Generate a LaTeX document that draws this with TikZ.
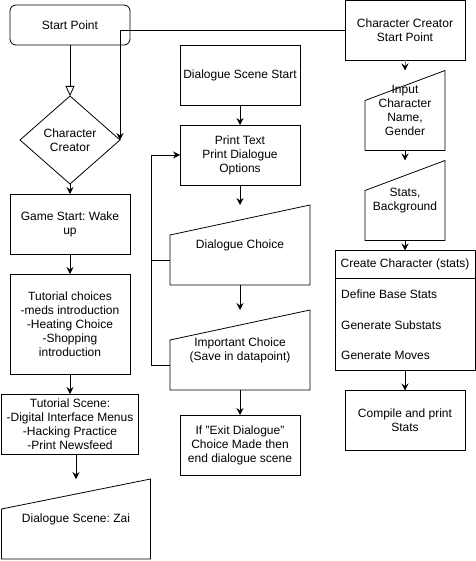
\documentclass[tikz,border=0pt]{standalone}
\usepackage{fontspec}
\setmainfont{Liberation Sans}
\frenchspacing
\usetikzlibrary{arrows.meta,positioning,shapes.geometric}

\tikzset{
  box/.style={draw,line width=0.8pt,minimum width=120pt,minimum height=60pt,inner sep=2pt,outer sep=0pt,align=center},
  startbox/.style={box,rounded corners=6pt,minimum height=40pt},
  decision/.style={draw,diamond,line width=0.8pt,aspect=1.1,minimum width=100pt,minimum height=88pt,inner sep=0pt,outer sep=0pt,align=center},
  manin/.style={minimum width=140pt,minimum height=80pt,inner sep=2pt,outer sep=0pt,align=center},
  item/.style={inner sep=0pt,text height=9pt,text depth=3pt,anchor=north west},
  arr/.style={-{Stealth[length=7pt,width=7pt,inset=2.5pt]},line width=0.8pt},
  opentip/.style={-{Triangle[open,length=10pt,width=9pt,fill=white]},line width=0.8pt},
}

\begin{document}
\begin{tikzpicture}[x=1pt,y=-1pt,every node/.style={font=\fontsize{12}{14}\selectfont}]
\fill[white] (0,0) rectangle (475,561);
\useasboundingbox (0,0) rectangle (475,561);

% left column
\node[startbox] (start) at (70,25) {Start Point};
\node[decision,below=51pt of start] (cc) {Character\\Creator};
\node[box,below=10pt of cc] (gamestart) {Game Start: Wake\\up};
\node[box,below=20pt of gamestart,minimum height=100pt] (tutchoice) {Tutorial choices\\-meds introduction\\-Heating Choice\\-Shopping\\introduction};
\node[box,below=20pt of tutchoice,minimum width=137pt] (tutscene) {Tutorial Scene:\\-Digital Interface Menus\\-Hacking Practice\\-Print Newsfeed};
\node[manin,below=25pt of tutscene,xshift=6pt,minimum width=149pt] (zai) {Dialogue Scene: Zai};

% middle column
\node[box] (dstart) at (240,75) {Dialogue Scene Start};
\node[box,below=20pt of dstart] (printtext) {Print Text\\Print Dialogue\\Options};
\node[manin,below=20pt of printtext] (dchoice) {Dialogue Choice};
\node[manin,below=25pt of dchoice] (ichoice) {Important Choice\\(Save in datapoint)};
\node[box,below=25pt of ichoice] (exitd) {If "Exit Dialogue"\\Choice Made then\\end dialogue scene};

% right column
\node[box] (ccstart) at (405,30.5) {Character Creator\\Start Point};
\node[manin,below=10pt of ccstart,minimum width=80pt] (cinput) {Input\\Character\\Name,\\Gender};
\node[manin,below=10pt of cinput,minimum width=80pt] (cstats) {Stats,\\Background};
\node[box,below=10pt of cstats,minimum width=140pt,minimum height=28pt] (create) {Create Character (stats)};
\node[item,below right=11pt and 6pt of create.south west,anchor=north west] (dbase) {Define Base Stats};
\node[item,below=18pt of dbase.south west,anchor=north west] (gsub) {Generate Substats};
\node[item,below=18pt of gsub.south west,anchor=north west] (gmoves) {Generate Moves};
\coordinate (createbot) at ([yshift=-92pt]create.south);
\draw[line width=0.8pt] (create.south west) rectangle ([yshift=-92pt]create.south east);
\node[box,below=20pt of createbot] (compile) {Compile and print\\Stats};

% manual input outlines
\foreach \n in {zai,dchoice,ichoice,cinput,cstats}
  \draw[line width=0.8pt] (\n.south west) -- (\n.south east) -- (\n.north east) -- ([yshift=-30pt]\n.north west) -- cycle;

% connectors
\draw[opentip] (start) -- (cc);
\draw[arr] (cc) -- (gamestart);
\draw[arr] (gamestart) -- (tutchoice);
\draw[arr] (tutchoice) -- (tutscene);
\draw[arr] (tutscene.south -| zai.north) -- (zai.north);
\draw[arr] (ccstart.west) -| (cc.east);
\draw[arr] (dstart) -- (printtext);
\draw[arr] (printtext) -- (dchoice);
\draw[arr] (dchoice) -- (ichoice);
\draw[arr] (ichoice) -- (exitd);
\draw[arr] ([yshift=25pt]ichoice.south west) -- ++(-19,0) |- (printtext.west);
\draw[line width=0.8pt] ([yshift=25pt]dchoice.south west) -- ++(-19,0);
\draw[-{Stealth[length=7pt,width=7pt,inset=2.5pt,black]},line width=0.8pt,gray] (ccstart) -- (cinput);
\draw[arr] (cinput) -- (cstats);
\draw[arr] (cstats) -- (create);
\draw[arr] (createbot) -- (compile);
\end{tikzpicture}
\end{document}
